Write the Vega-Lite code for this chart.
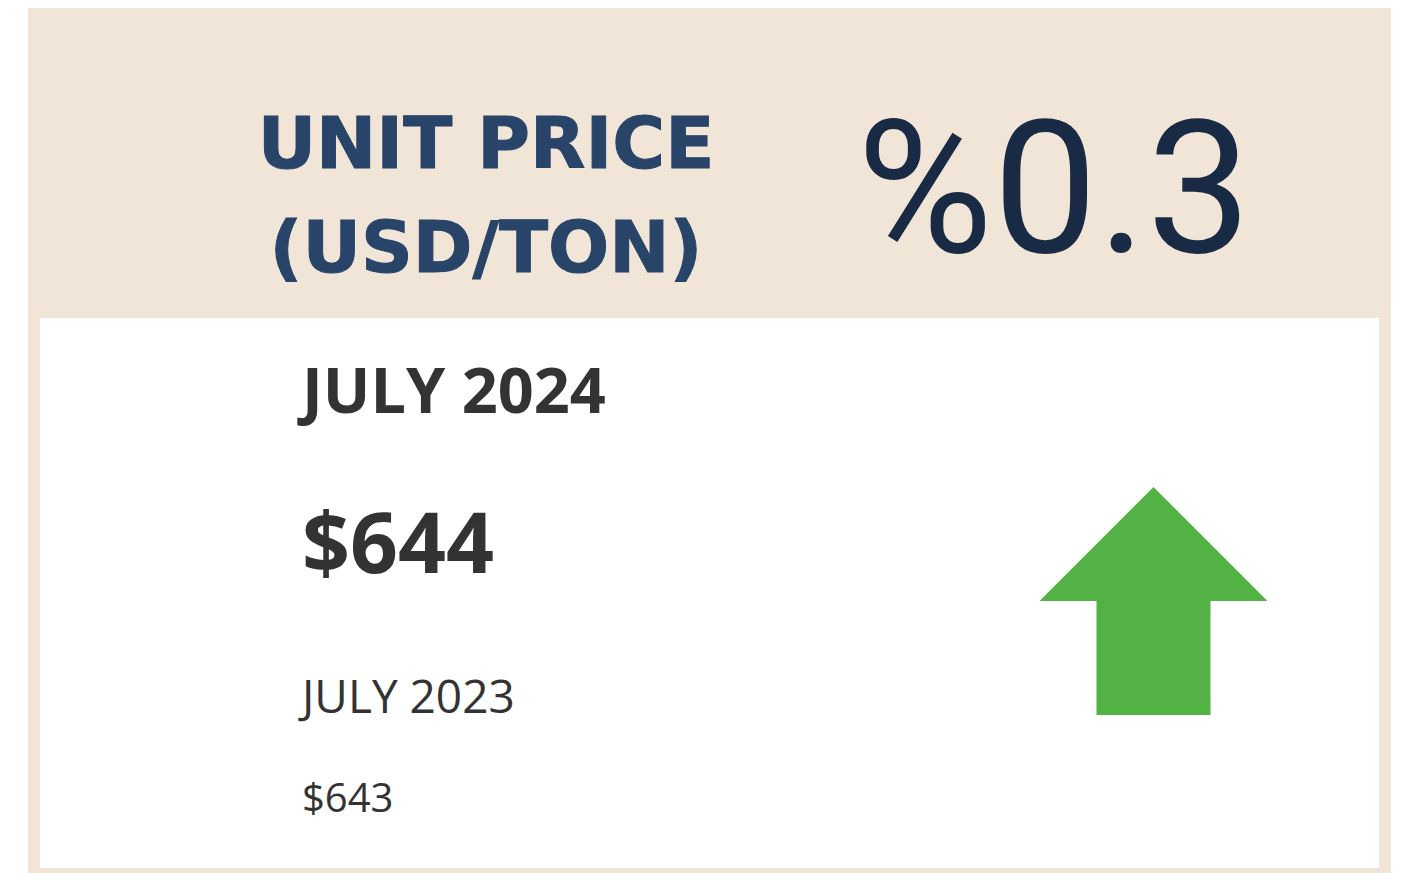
{
  "$schema": "https://vega.github.io/schema/vega-lite/v6.json",
  "width": 1412,
  "height": 873,
  "autosize": {"type": "fit", "contains": "padding"},
  "padding": 0,
  "background": "#ffffff",
  "config": {"view": {"stroke": null}},
  "data": {
    "values": [
      {"role": "title", "label": "UNIT PRICE\n(USD/TON)"},
      {"role": "change", "label": "%0.3", "change_pct": 0.3, "direction": "up"},
      {"role": "current", "period": "JULY 2024", "price": 644},
      {"role": "previous", "period": "JULY 2023", "price": 643}
    ]
  },
  "encoding": {
    "x": {"type": "quantitative", "scale": {"domain": [0, 1412], "nice": false, "zero": false}, "axis": null},
    "y": {"type": "quantitative", "scale": {"domain": [0, 873], "nice": false, "zero": false, "reverse": true}, "axis": null}
  },
  "layer": [
    {
      "transform": [{"filter": "datum.role === 'title'"}],
      "mark": {"type": "rect", "color": "#F1E5D8"},
      "encoding": {"x": {"datum": 28}, "x2": {"datum": 1391}, "y": {"datum": 8}, "y2": {"datum": 873}}
    },
    {
      "transform": [{"filter": "datum.role === 'title'"}],
      "mark": {"type": "rect", "color": "#ffffff"},
      "encoding": {"x": {"datum": 40}, "x2": {"datum": 1379}, "y": {"datum": 318}, "y2": {"datum": 868}}
    },
    {
      "transform": [{"filter": "datum.role === 'title'"}],
      "mark": {"type": "text", "font": "DejaVu Sans", "fontWeight": "bold", "fontSize": 72, "color": "#284468", "stroke": "#284468", "strokeWidth": 1, "align": "center", "baseline": "alphabetic", "lineBreak": "\n", "lineHeight": 104},
      "encoding": {"x": {"datum": 486}, "y": {"datum": 168}, "text": {"field": "label"}}
    },
    {
      "transform": [{"filter": "datum.role === 'change'"}],
      "mark": {"type": "text", "font": "Roboto", "fontWeight": 400, "fontSize": 186, "color": "#192A45", "align": "center", "baseline": "alphabetic"},
      "encoding": {"x": {"datum": 1054}, "y": {"datum": 252}, "text": {"field": "label"}}
    },
    {
      "transform": [{"filter": "datum.role === 'change'"}],
      "mark": {"type": "point", "filled": true, "opacity": 1, "shape": "M0,-1L1,0L0.5,0L0.5,1L-0.5,1L-0.5,0L-1,0Z", "size": 51984, "color": "#52B244", "strokeWidth": 0},
      "encoding": {"x": {"datum": 1153.5}, "y": {"datum": 601}}
    },
    {
      "transform": [{"filter": "datum.role === 'current'"}],
      "mark": {"type": "text", "font": "Open Sans", "fontWeight": "bold", "fontSize": 63, "color": "#333333", "align": "left", "baseline": "alphabetic"},
      "encoding": {"x": {"datum": 302}, "y": {"datum": 413}, "text": {"field": "period"}}
    },
    {
      "transform": [{"filter": "datum.role === 'current'"}],
      "mark": {"type": "text", "font": "Open Sans", "fontWeight": "bold", "fontSize": 84, "color": "#333333", "align": "left", "baseline": "alphabetic"},
      "encoding": {"x": {"datum": 302}, "y": {"datum": 573}, "text": {"field": "price", "format": "$,.0f"}}
    },
    {
      "transform": [{"filter": "datum.role === 'previous'"}],
      "mark": {"type": "text", "font": "Open Sans", "fontWeight": "normal", "fontSize": 46, "color": "#333333", "align": "left", "baseline": "alphabetic"},
      "encoding": {"x": {"datum": 302}, "y": {"datum": 713}, "text": {"field": "period"}}
    },
    {
      "transform": [{"filter": "datum.role === 'previous'"}],
      "mark": {"type": "text", "font": "Open Sans", "fontWeight": "normal", "fontSize": 40, "color": "#333333", "align": "left", "baseline": "alphabetic"},
      "encoding": {"x": {"datum": 302}, "y": {"datum": 812}, "text": {"field": "price", "format": "$,.0f"}}
    }
  ]
}
